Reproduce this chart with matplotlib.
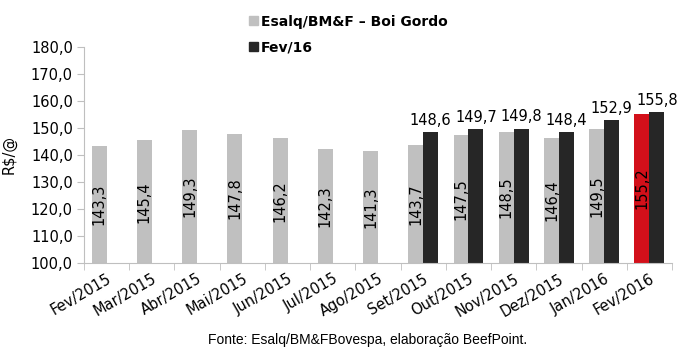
import numpy as np
import matplotlib
matplotlib.use("Agg")
import matplotlib.pyplot as plt
from matplotlib.patches import Patch

meses = ["Fev/2015", "Mar/2015", "Abr/2015", "Mai/2015", "Jun/2015", "Jul/2015",
         "Ago/2015", "Set/2015", "Out/2015", "Nov/2015", "Dez/2015", "Jan/2016", "Fev/2016"]
esalq = [143.3, 145.4, 149.3, 147.8, 146.2, 142.3, 141.3, 143.7, 147.5, 148.5, 146.4, 149.5, 155.2]
# contrato Fev/16 so a partir de Set/2015
fev16 = [None, None, None, None, None, None, None, 148.6, 149.7, 149.8, 148.4, 152.9, 155.8]

cinza = "#C0C0C0"
preto = "#262626"
vermelho = "#D3101A"
eixo = "#BFBFBF"

plt.rcParams["font.family"] = "DejaVu Sans"

fig = plt.figure(figsize=(6.84, 3.63), dpi=100)
ax = fig.add_axes([84 / 684, 1 - 263 / 363, 588 / 684, 216 / 363])

x = np.arange(len(meses))
w = 0.33
cores = [cinza] * (len(meses) - 1) + [vermelho]
ax.bar(x - w / 2, [v - 100 for v in esalq], bottom=100, width=w, color=cores)
for i, v in enumerate(fev16):
    if v is not None:
        ax.bar(x[i] + w / 2, v - 100, bottom=100, width=w, color=preto)
        ax.annotate(f"{v:.1f}".replace(".", ","), (x[i] + w / 2, v), xytext=(0, 3),
                    textcoords="offset points", ha="center", va="bottom", fontsize=10.5)

for i, v in enumerate(esalq):
    ax.text(x[i] - w / 2, (100 + v) / 2, f"{v:.1f}".replace(".", ","),
            rotation=90, ha="center", va="center", fontsize=10.5)

ax.set_xlim(-0.5, len(meses) - 0.5)
ax.set_ylim(100, 180)
ax.set_yticks(np.arange(100, 181, 10))
ax.set_yticklabels([f"{t:.1f}".replace(".", ",") for t in np.arange(100, 181, 10)], fontsize=10.5)
ax.set_xticks(x)
ax.set_xticklabels(meses, rotation=30, ha="right", rotation_mode="anchor", fontsize=10.5)
ax.set_xticks(np.arange(-0.5, len(meses), 1), minor=True)
ax.tick_params(axis="x", which="major", length=0, pad=6)
ax.tick_params(axis="x", which="minor", length=5, color=eixo)
ax.tick_params(axis="y", length=5, color=eixo, pad=3)

for s in ["top", "right"]:
    ax.spines[s].set_visible(False)
for s in ["left", "bottom"]:
    ax.spines[s].set_color(eixo)

ax.set_ylabel("R$/@", fontsize=10.5, labelpad=10)

handles = [Patch(color=cinza), Patch(color=preto)]
fig.legend(handles, ["Esalq/BM&F – Boi Gordo", "Fev/16"], loc="upper left",
           bbox_to_anchor=(243 / 684, 1 - 9 / 363), frameon=False,
           handlelength=0.65, handleheight=0.65, handletextpad=0.25,
           labelspacing=0.85, prop={"weight": "bold", "size": 10}, borderaxespad=0)

fig.text(368 / 684, 1 - 340 / 363, "Fonte: Esalq/BM&FBovespa, elaboração BeefPoint.",
         ha="center", va="center", fontsize=10, family="Liberation Sans")

fig.savefig("out.png", dpi=100)
